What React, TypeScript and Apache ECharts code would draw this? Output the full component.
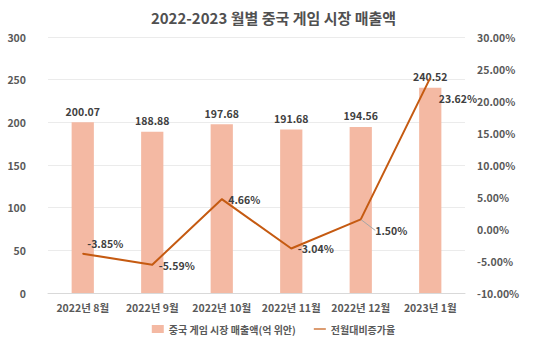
import React, { useEffect, useRef } from "react";
import * as echarts from "echarts";

const categories = ["2022년 8월", "2022년 9월", "2022년 10월", "2022년 11월", "2022년 12월", "2023년 1월"];
const revenue = [200.07, 188.88, 197.68, 191.68, 194.56, 240.52];
const growth = [-3.85, -5.59, 4.66, -3.04, 1.5, 23.62];
const growthLabelOffsets: number[][] = [[0, -10], [2, 1], [2, 0], [2, 0], [10, 11], [4, 21]];

const FONT = "'Noto Sans CJK KR', 'Noto Sans', sans-serif";
const TXT = "#595959";

export default function App() {
  const ref = useRef<HTMLDivElement>(null);
  useEffect(() => {
    if (!ref.current) return;
    const chart = echarts.init(ref.current, null, { renderer: "svg" });
    chart.setOption({
      animation: false,
      textStyle: { fontFamily: FONT },
      title: {
        text: "2022-2023 월별 중국 게임 시장 매출액",
        left: "center",
        top: 5,
        textStyle: { fontFamily: FONT, fontSize: 15, fontWeight: "bold", color: "#505050" },
      },
      legend: {
        bottom: 12,
        left: "center",
        itemWidth: 12,
        itemHeight: 8,
        itemGap: 18,
        textStyle: { fontFamily: FONT, fontSize: 10, color: TXT, fontWeight: "bold" },
        data: [
          { name: "중국 게임 시장 매출액(억 위안)", icon: "rect" },
          { name: "전월대비증가율", icon: "path://M0,0 L20,0 L20,2 L0,2 Z" },
        ],
      },
      grid: { left: 48, right: 82, top: 37, bottom: 58 },
      xAxis: {
        type: "category",
        data: categories,
        axisTick: { show: false },
        axisLine: { lineStyle: { color: "#D9D9D9" } },
        axisLabel: { interval: 0, color: TXT, fontSize: 10.5, fontWeight: "bold", fontFamily: FONT, margin: 9 },
      },
      yAxis: [
        {
          type: "value",
          min: 0,
          max: 300,
          interval: 50,
          axisLabel: { color: TXT, fontSize: 10.5, fontWeight: "bold", margin: 22 },
          splitLine: { lineStyle: { color: "#EBEBEB" } },
          axisLine: { show: false },
          axisTick: { show: false },
        },
        {
          type: "value",
          min: -10,
          max: 30,
          interval: 5,
          axisLabel: {
            color: TXT,
            fontSize: 10.5,
            fontWeight: "bold",
            margin: 12,
            formatter: (v: number) => v.toFixed(2) + "%",
          },
          splitLine: { show: false },
          axisLine: { show: false },
          axisTick: { show: false },
        },
      ],
      series: [
        {
          name: "중국 게임 시장 매출액(억 위안)",
          type: "bar",
          data: revenue,
          barWidth: "32%",
          itemStyle: { color: "#F4B9A3" },
          label: {
            show: true,
            position: "top",
            distance: 6,
            color: "#404040",
            fontSize: 10.5,
            fontWeight: "bold",
            formatter: (p: any) => p.value.toFixed(2),
          },
        },
        {
          name: "전월대비증가율",
          type: "line",
          yAxisIndex: 1,
          data: growth.map((v, i) => ({
            value: v,
            labelLine: { show: i === 4, lineStyle: { color: "#A6A6A6", width: 1 } },
          })),
          symbol: "circle",
          symbolSize: 1,
          showSymbol: true,
          lineStyle: { color: "#C55A11", width: 2 },
          itemStyle: { color: "#C55A11" },
          labelLayout: (p: any) => ({
            dx: growthLabelOffsets[p.dataIndex][0],
            dy: growthLabelOffsets[p.dataIndex][1],
          }),
          labelLine: { show: false },
          label: {
            show: true,
            position: "right",
            distance: 4,
            color: "#404040",
            fontSize: 10.5,
            fontWeight: "bold",
            formatter: (p: any) => p.value.toFixed(2) + "%",
          },
        },
      ],
    });
    return () => chart.dispose();
  }, []);
  return <div ref={ref} style={{ width: 547, height: 351, position: "absolute", left: 0, top: 0 }} />;
}
